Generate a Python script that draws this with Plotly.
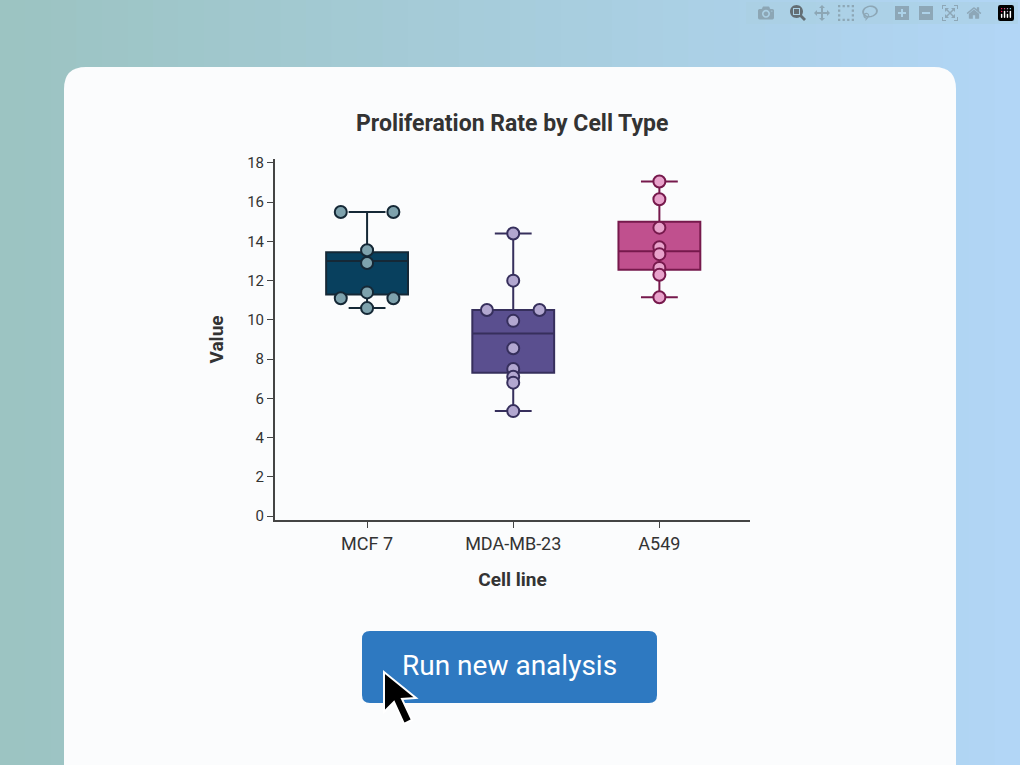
import plotly.graph_objects as go

# data
cell_lines = ["MCF 7", "MDA-MB-23", "A549"]
mcf7_vals = [15.5, 15.5, 13.55, 12.9, 11.4, 11.1, 11.1, 10.6]
mda_vals = [14.4, 12.0, 10.5, 10.5, 9.95, 8.55, 7.5, 7.1, 6.8, 5.35]
a549_vals = [17.05, 16.15, 14.7, 13.7, 13.35, 12.65, 12.3, 11.15]
q1 = [11.3, 7.3, 12.55]
median = [13.0, 9.3, 13.5]
q3 = [13.45, 10.5, 15.0]
lower = [10.6, 5.35, 11.15]
upper = [15.5, 14.4, 17.05]
y_ticks = [0, 2, 4, 6, 8, 10, 12, 14, 16, 18]

box_fill = ["#08405e", "#5a4f8f", "#c0508e"]
box_line = ["#152836", "#362f5c", "#76194c"]
pt_fill = ["#7ea2ad", "#b2a7d0", "#e8a2cb"]

W, H = 1020, 765
fig = go.Figure()


def px(x):
    return x / W


def py(y):
    return 1 - y / H


def rounded(x0, y0, x1, y1, r):
    return (f"M {px(x0)},{py(y1 - r)} L {px(x0)},{py(y0 + r)} "
            f"Q {px(x0)},{py(y0)} {px(x0 + r)},{py(y0)} "
            f"L {px(x1 - r)},{py(y0)} Q {px(x1)},{py(y0)} {px(x1)},{py(y0 + r)} "
            f"L {px(x1)},{py(y1 - r)} Q {px(x1)},{py(y1)} {px(x1 - r)},{py(y1)} "
            f"L {px(x0 + r)},{py(y1)} Q {px(x0)},{py(y1)} {px(x0)},{py(y1 - r)} Z")


# background gradient (teal -> light blue) as thin strips
c0, c1 = (156, 196, 194), (178, 214, 246)
n = 40
for i in range(n):
    t = i / (n - 1)
    col = "rgb(%d,%d,%d)" % tuple(int(a + (b - a) * t) for a, b in zip(c0, c1))
    fig.add_shape(type="rect", xref="paper", yref="paper", layer="below",
                  x0=i / n, x1=(i + 1) / n + 0.002, y0=0, y1=1,
                  fillcolor=col, line_width=0)

# card
fig.add_shape(type="path", path=rounded(64, 67, 956, 800, 22), xref="paper", yref="paper",
              layer="below", fillcolor="#fbfcfd", line_width=0)

all_vals = [mcf7_vals, mda_vals, a549_vals]
for i, vals in enumerate(all_vals):
    fig.add_trace(go.Box(
        x=[i], q1=[q1[i]], median=[median[i]], q3=[q3[i]],
        lowerfence=[lower[i]], upperfence=[upper[i]],
        width=0.56, whiskerwidth=0.45, boxpoints=False,
        fillcolor=box_fill[i], line=dict(color=box_line[i], width=2),
        showlegend=False, hoverinfo="skip"))
    xs = []
    for j, v in enumerate(vals):
        if vals.count(v) > 1:
            k = [m for m, w in enumerate(vals) if w == v].index(j)
            xs.append(i + (-0.18 if k == 0 else 0.18))
        else:
            xs.append(i)
    fig.add_trace(go.Scatter(
        x=xs, y=vals, mode="markers", showlegend=False,
        marker=dict(size=12, color=pt_fill[i], line=dict(color=box_line[i], width=2))))

# button
bx0, bx1, by0, by1 = 362, 657, 631, 703
fig.add_shape(type="path", path=rounded(bx0, by0, bx1, by1, 8), xref="paper", yref="paper",
              fillcolor="#2e79c1", line_width=0)
fig.add_annotation(text="Run new analysis", xref="paper", yref="paper",
                   x=px((bx0 + bx1) / 2), y=py((by0 + by1) / 2 - 2), showarrow=False,
                   xanchor="center", yanchor="middle",
                   font=dict(family="Roboto", size=28, color="white"))

# cursor
pts = [(384, 672), (384, 712), (394, 702), (404, 724), (412, 720), (402, 699), (416, 698)]
cpath = "M " + " L ".join(f"{px(a)},{py(b)}" for a, b in pts) + " Z"
fig.add_shape(type="path", path=cpath, xref="paper", yref="paper",
              fillcolor="black", line=dict(color="white", width=2))

fig.add_annotation(text="<b>Proliferation Rate by Cell Type</b>", xref="paper", yref="paper",
                   x=px(512), y=py(124), showarrow=False, xanchor="center", yanchor="middle",
                   font=dict(family="Roboto", size=23, color="#333333"))

fig.update_layout(
    width=W, height=H, margin=dict(l=0, r=0, t=0, b=0, pad=0, autoexpand=False),
    paper_bgcolor="#a9cfe0", plot_bgcolor="rgba(0,0,0,0)",
    font=dict(family="Roboto", color="#333333"),
    xaxis=dict(domain=[px(275), px(750)], range=[-0.63, 2.62], automargin=False,
               tickvals=[0, 1, 2], ticktext=cell_lines, showgrid=False, zeroline=False,
               showline=True, linecolor="#444", linewidth=2, ticks="outside",
               ticklen=6, tickcolor="#444", tickfont=dict(size=18, color="#333"),
               title=dict(text="<b>Cell line</b>", font=dict(size=19), standoff=20)),
    yaxis=dict(domain=[py(520), py(159)], range=[-0.2, 18.2], tickvals=y_ticks,
               automargin=False, showgrid=False, zeroline=False, showline=True,
               linecolor="#444", linewidth=2, ticks="outside", ticklen=6, tickcolor="#444",
               tickfont=dict(size=15, color="#333"),
               title=dict(text="<b>Value</b>", font=dict(size=19), standoff=18)),
)

fig.write_html("out.html", post_script="document.body.style.margin='0';")
